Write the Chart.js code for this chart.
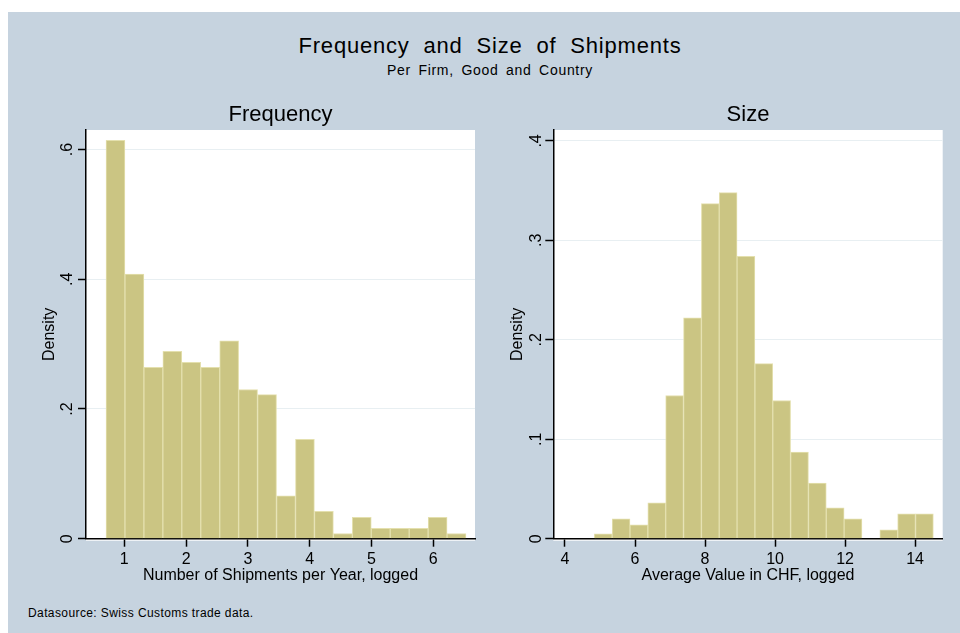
<!DOCTYPE html>
<html lang="en">
<head>
  <meta charset="UTF-8">
  <title>Frequency and Size of Shipments</title>
  <script src="https://cdn.jsdelivr.net/npm/chart.js"></script>
  <style>
    body {
      margin: 0;
      width: 960px;
      height: 633px;
      background: #ffffff;
      font-family: "Liberation Sans", Arial, sans-serif;
      position: relative;
      overflow: hidden;
    }

    #graph-region {
      position: absolute;
      left: 8px;
      top: 12px;
      width: 952px;
      height: 621px;
      background: #c6d3df;
    }

    .txt {
      position: absolute;
      color: #000;
      white-space: nowrap;
    }

    #main-title {
      left: 190px;
      width: 600px;
      top: 35px;
      font-size: 22px;
      line-height: 22px;
      letter-spacing: 0.8px;
      word-spacing: 7px;
      text-align: center;
    }

    #sub-title {
      left: 290px;
      width: 400px;
      top: 63px;
      font-size: 14px;
      line-height: 14px;
      letter-spacing: 0.7px;
      word-spacing: 3px;
      text-align: center;
    }

    #note {
      left: 28px;
      top: 607px;
      font-size: 12px;
      line-height: 12px;
      letter-spacing: 0.4px;
    }

    canvas {
      position: absolute;
      top: 100px;
    }

    #freqChart { left: 20px; }
    #sizeChart { left: 490px; }
  </style>
</head>
<body>
  <div id="graph-region"></div>
  <div class="txt" id="main-title">Frequency and Size of Shipments</div>
  <div class="txt" id="sub-title">Per Firm, Good and Country</div>
  <canvas id="freqChart" width="470" height="500"></canvas>
  <canvas id="sizeChart" width="470" height="500"></canvas>
  <div class="txt" id="note">Datasource: Swiss Customs trade data.</div>
  <script>
    // histogram bins (bin centres) and densities
    const freqBins = [0.857, 1.164, 1.470, 1.777, 2.083, 2.390, 2.697, 3.003, 3.310, 3.617,
      3.923, 4.230, 4.537, 4.843, 5.150, 5.457, 5.763, 6.070, 6.376];
    const freqDensity = [0.614, 0.408, 0.264, 0.289, 0.272, 0.264, 0.305, 0.230, 0.222, 0.066,
      0.153, 0.042, 0.008, 0.033, 0.016, 0.016, 0.016, 0.033, 0.008];

    const sizeBins = [5.092, 5.602, 6.112, 6.621, 7.131, 7.641, 8.151, 8.661, 9.170, 9.680,
      10.190, 10.700, 11.209, 11.719, 12.229, 12.739, 13.249, 13.758, 14.268];
    const sizeDensity = [0.005, 0.020, 0.014, 0.036, 0.144, 0.222, 0.337, 0.348, 0.284, 0.176,
      0.139, 0.087, 0.056, 0.031, 0.020, 0, 0.009, 0.025, 0.025];

    // tick values and labels
    const freqXTicks = [1, 2, 3, 4, 5, 6];
    const freqYTicks = [0, 0.2, 0.4, 0.6];
    const freqYLabels = ["0", ".2", ".4", ".6"];
    const sizeXTicks = [4, 6, 8, 10, 12, 14];
    const sizeYTicks = [0, 0.1, 0.2, 0.3, 0.4];
    const sizeYLabels = ["0", ".1", ".2", ".3", ".4"];

    Chart.defaults.font.family = "'Liberation Sans', Arial, sans-serif";
    Chart.defaults.color = "#000";

    // white plot region behind the bars
    const plotBackground = {
      id: "plotBackground",
      beforeDraw(chart) {
        const { ctx, chartArea } = chart;
        ctx.save();
        ctx.fillStyle = "#ffffff";
        ctx.fillRect(chartArea.left, chartArea.top, chartArea.right - chartArea.left, chartArea.bottom - chartArea.top + 2);
        ctx.restore();
      }
    };

    function makeHistogram(canvasId, cfg) {
      const ctx = document.getElementById(canvasId).getContext("2d");
      return new Chart(ctx, {
        type: "bar",
        data: {
          datasets: [{
            data: cfg.bins.map((x, i) => ({ x: x, y: cfg.density[i] })),
            backgroundColor: "#cbc583",
            borderColor: "#e4e0ae",
            borderWidth: 1,
            barPercentage: 1,
            categoryPercentage: 1
          }]
        },
        options: {
          responsive: false,
          animation: false,
          layout: { padding: { left: 0, right: cfg.padRight, top: 0, bottom: 0 } },
          plugins: {
            legend: { display: false },
            tooltip: { enabled: false },
            title: {
              display: true,
              text: cfg.title,
              fullSize: false,
              font: { size: 22, weight: "normal" },
              padding: { top: 1.9, bottom: 1.7 }
            }
          },
          scales: {
            x: {
              type: "linear",
              offset: false,
              min: cfg.xMin,
              max: cfg.xMax,
              afterBuildTicks: (axis) => { axis.ticks = cfg.xTicks.map(v => ({ value: v })); },
              afterFit: (axis) => { axis.height = 61.3; },
              ticks: { font: { size: 16 }, padding: 3, maxRotation: 0, callback: (v) => String(v) },
              grid: { offset: false, drawOnChartArea: false, drawTicks: true, tickLength: 8, tickColor: "#000", tickWidth: 1.5 },
              border: { display: true, color: "#000", width: 1.5 },
              title: { display: true, text: cfg.xTitle, font: { size: 16 }, padding: { top: 0, bottom: 14.4 } }
            },
            y: {
              min: 0,
              max: cfg.yMax,
              afterBuildTicks: (axis) => { axis.ticks = cfg.yTicks.map(v => ({ value: v })); },
              afterFit: (axis) => { axis.width = cfg.yWidth; },
              ticks: {
                font: { size: 16 },
                minRotation: 90,
                maxRotation: 90,
                crossAlign: "center",
                padding: cfg.yTickPad,
                callback: (v) => cfg.yLabels[cfg.yTicks.indexOf(v)]
              },
              grid: { color: "#e8eff2", lineWidth: 1, drawTicks: true, tickLength: 8, tickColor: "#000", tickWidth: 1.5 },
              border: { display: true, color: "#000", width: 1.5 },
              title: { display: true, text: "Density", font: { size: 16 }, padding: { top: cfg.yTitlePad, bottom: 0 } }
            }
          }
        },
        plugins: [plotBackground]
      });
    }

    makeHistogram("freqChart", {
      title: "Frequency",
      bins: freqBins,
      density: freqDensity,
      xTicks: freqXTicks,
      yTicks: freqYTicks,
      yLabels: freqYLabels,
      xMin: 0.38,
      xMax: 6.675,
      yMax: 0.630,
      xTitle: "Number of Shipments per Year, logged",
      padRight: 15,
      yWidth: 66,
      yTickPad: 3.5,
      yTitlePad: 19.9
    });

    makeHistogram("sizeChart", {
      title: "Size",
      bins: sizeBins,
      density: sizeDensity,
      xTicks: sizeXTicks,
      yTicks: sizeYTicks,
      yLabels: sizeYLabels,
      xMin: 3.666,
      xMax: 14.79,
      yMax: 0.411,
      xTitle: "Average Value in CHF, logged",
      padRight: 17.3,
      yWidth: 63.3,
      yTickPad: 2.4,
      yTitlePad: 18.2
    });
  </script>
</body>
</html>
